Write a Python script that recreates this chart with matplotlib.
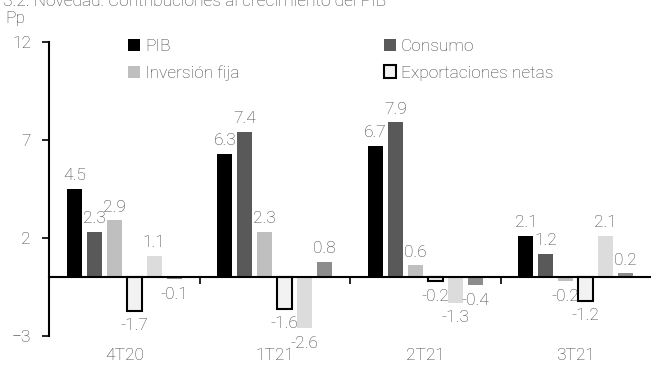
import numpy as np
import matplotlib
matplotlib.use("Agg")
import matplotlib.pyplot as plt

# -----------------------------
# Data
# -----------------------------
quarters = ['4T20', '1T21', '2T21', '3T21']
series = ['PIB', 'Consumo', 'Inversión fija', 'Exportaciones netas',
          'Gasto de gobierno', 'Inventarios']

pib = [4.5, 6.3, 6.7, 2.1]
consumo = [2.3, 7.4, 7.9, 1.2]
inversion = [2.9, 2.3, 0.6, -0.2]
exportaciones = [-1.7, -1.6, -0.2, -1.2]
gobierno = [1.1, -2.6, -1.3, 2.1]
inventarios = [-0.1, 0.8, -0.4, 0.2]

values = [pib, consumo, inversion, exportaciones, gobierno, inventarios]

yticks = [-3, 2, 7, 12]

# -----------------------------
# Style
# -----------------------------
plt.rcParams['font.family'] = ['Roboto', 'DejaVu Sans']
plt.rcParams['font.weight'] = 'light'
txt_col = '#404040'
faces = ['#000000', '#595959', '#bfbfbf', '#f2f2f2', '#dcdcdc', '#8c8c8c']
edges = ['none', 'none', 'none', '#000000', 'none', 'none']
lws = [0, 0, 0, 1.5, 0, 0]

fig = plt.figure(figsize=(6.51, 3.70), dpi=100)
ax = fig.add_axes([49/651, 1 - 336/370, 1 - 49/651, (336 - 42)/370])

x = np.arange(len(quarters))
step = 0.1325
width = 0.1
n = len(series)

bars = []
for i in range(n):
    pos = x + (i - (n - 1) / 2) * step
    b = ax.bar(pos, values[i], width, color=faces[i], edgecolor=edges[i],
               linewidth=lws[i], label=series[i], zorder=2)
    bars.append(b)
    for xx, v in zip(pos, values[i]):
        off = 9.5 if v >= 0 else -11
        ax.annotate(f'{v:.1f}', (xx, v), xytext=(0, off), textcoords='offset points',
                    ha='center', va='center', fontsize=12.5, color=txt_col)

ax.set_xlim(-0.5, 3.5)
ax.set_ylim(-3, 12)
ax.set_yticks(yticks)
ax.tick_params(axis='y', direction='out', length=5, width=1.2, labelsize=12.5,
               labelcolor=txt_col, pad=8)

ax.spines['bottom'].set_position(('data', 0))
ax.spines['bottom'].set_linewidth(1.5)
ax.spines['left'].set_linewidth(1.5)
ax.spines['top'].set_visible(False)
ax.spines['right'].set_visible(False)
ax.set_xticks([0.5, 1.5, 2.5])
ax.set_xticklabels([])
ax.tick_params(axis='x', direction='out', length=5, width=1.2)

for xx, q in zip(x, quarters):
    ax.text(xx, -0.065, q, transform=ax.get_xaxis_transform(), ha='center',
            va='center', fontsize=12.5, color=txt_col)

# Legend: only the first four series
h = [bars[0], bars[2], bars[1], bars[3]]
labels = [series[0], series[2], series[1], series[3]]
ax.legend(h, labels, ncol=2, loc='upper left', bbox_to_anchor=(0.105, 1.065),
          frameon=False, fontsize=12.5, handlelength=0.7, handleheight=0.7,
          handletextpad=0.3, columnspacing=8.3, labelspacing=0.68,
          labelcolor=txt_col)

fig.text(0.005, 0.995, '3.2. Novedad: Contribuciones al crecimiento del PIB',
         ha='left', va='center', fontsize=12.5, color=txt_col)
fig.text(0.008, 1 - 18/370, 'Pp', ha='left', va='center', fontsize=12.5,
         color=txt_col)

fig.savefig('out.png', dpi=100)
